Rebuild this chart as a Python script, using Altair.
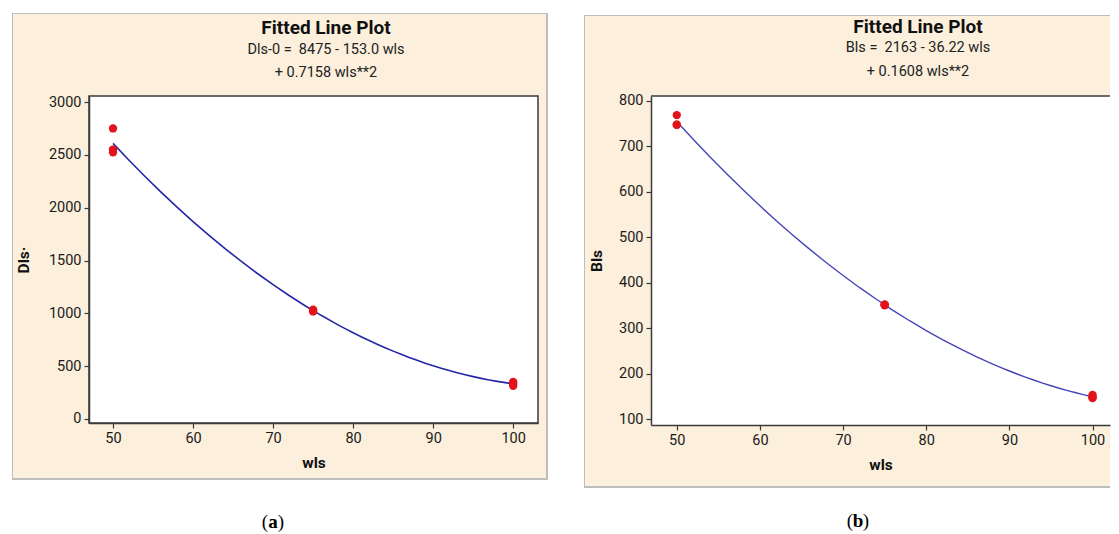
import altair as alt
import pandas as pd

# ---------------- data ----------------
wls_a = [50, 50, 50, 75, 75, 75, 100, 100, 100]
dls_a = [2750, 2550, 2525, 1035, 1025, 1018, 350, 335, 315]

wls_b = [50, 50, 50, 75, 75, 75, 100, 100, 100]
bls_b = [768, 747, 747, 352, 350, 351, 153, 148, 146]

title_text = "Fitted Line Plot"
eq_a = ["Dls-0 =\u00a0 8475 - 153.0 wls", "+ 0.7158 wls**2"]
eq_b = ["Bls =\u00a0 2163 - 36.22 wls", "+ 0.1608 wls**2"]
x_ticks = [50, 60, 70, 80, 90, 100]
y_ticks_a = [0, 500, 1000, 1500, 2000, 2500, 3000]
y_ticks_b = [100, 200, 300, 400, 500, 600, 700, 800]
captions = ["a", "b"]

# ---------------- style ----------------
FONT = "Roboto"
SERIF = "Liberation Serif"
BEIGE = "#FCEFDC"
DARK = "#3a3a3a"
ONE = pd.DataFrame({"k": [0]})


def deco_rect(x, x2, y, y2, **kw):
    return alt.Chart(ONE).mark_rect(**kw).encode(
        x=alt.value(x), x2=alt.value(x2), y=alt.value(y), y2=alt.value(y2)
    )


def txt(x, y, s, size, weight="normal", font=FONT, color="#111"):
    return alt.Chart(ONE).mark_text(
        text=s, fontSize=size, fontWeight=weight, font=font,
        align="center", baseline="middle", color=color
    ).encode(x=alt.value(x), y=alt.value(y))


def panel(xv, yv, yname, ytitle, xdom, ydom, yticks, W, H, box, eqs,
          title_pos, cap, cap_pos, right_open, ypad, line_color, line_w):
    df = pd.DataFrame({"wls": xv, yname: yv})
    bl, br, bt, bb = box
    layers = []
    if right_open:
        layers.append(deco_rect(bl - 1, W, bt - 1, H + bb + 2, fill="#bdbdbd"))
        layers.append(deco_rect(bl, W, bt, H + bb, fill=BEIGE))
        layers.append(deco_rect(0, W, 0, H, fill="white"))
        layers.append(alt.Chart(ONE).mark_rule(color=DARK, strokeWidth=1.5).encode(
            x=alt.value(0), x2=alt.value(W), y=alt.value(0)))
    else:
        layers.append(deco_rect(bl - 1, W + br + 2, bt - 1, H + bb + 2, fill="#bdbdbd"))
        layers.append(deco_rect(bl, W + br, bt, H + bb, fill=BEIGE))
        layers.append(deco_rect(0, W, 0, H, fill="white", stroke=DARK, strokeWidth=1.5))

    ax_common = dict(grid=False, zindex=1, domainColor=DARK, domainWidth=1.5,
                     tickColor=DARK, tickSize=5, tickWidth=1.2, format="d",
                     labelFont=FONT, labelFontSize=14.5, labelColor="#1a1a1a",
                     labelPadding=3, titleFont=FONT, titleFontSize=15.5,
                     titleFontWeight="bold", titleColor="#111", labelFlush=False)
    x_enc = alt.X("wls:Q", scale=alt.Scale(domain=xdom, nice=False, zero=False),
                  axis=alt.Axis(values=x_ticks, title="wls", titlePadding=11, **ax_common))
    y_enc = alt.Y(f"{yname}:Q", scale=alt.Scale(domain=ydom, nice=False, zero=False),
                  axis=alt.Axis(values=yticks, title=ytitle, titlePadding=ypad, **ax_common))

    line = alt.Chart(df).transform_regression(
        "wls", yname, method="poly", order=2
    ).mark_line(color=line_color, strokeWidth=line_w).encode(x=x_enc, y=y_enc)
    pts = alt.Chart(df).mark_circle(size=70, color="#e3121b", opacity=1).encode(
        x=x_enc, y=y_enc)
    layers += [line, pts]

    tx, ty = title_pos
    layers.append(txt(tx, ty[0], title_text, 19, "bold"))
    layers.append(txt(tx, ty[1], eqs[0], 14.5, color="#222"))
    layers.append(txt(tx, ty[2], eqs[1], 14.5, color="#222"))

    cx, cy = cap_pos
    layers.append(txt(cx - 8, cy, "(", 19, font=SERIF, color="#000"))
    layers.append(txt(cx, cy, cap, 19, "bold", font=SERIF, color="#000"))
    layers.append(txt(cx + 8, cy, ")", 19, font=SERIF, color="#000"))

    return alt.layer(*layers).properties(width=W, height=H)


pa = panel(wls_a, dls_a, "Dls", "Dls·", [47, 103.1], [-38, 3057], y_ticks_a,
           449, 327, (-76, 8, -82, 55), eq_a,
           (237, [-68, -46, -23]), captions[0], (184, 426), False, 17,
           "#2626a8", 1.6)

pb = panel(wls_b, bls_b, "Bls", "Bls", [46.9, 102.1], [87, 810], y_ticks_b,
           459, 329, (-66, 0, -80, 61), eq_b,
           (267, [-69, -48, -24]), captions[1], (207, 425), True, 14,
           "#4646b8", 1.4)

chart = alt.hconcat(pa, pb, spacing=36).properties(
    padding={"left": 4, "top": 5, "right": 0, "bottom": 0}
).configure_view(stroke=None)

chart.save("out.html", embed_options={"renderer": "svg", "actions": False})
